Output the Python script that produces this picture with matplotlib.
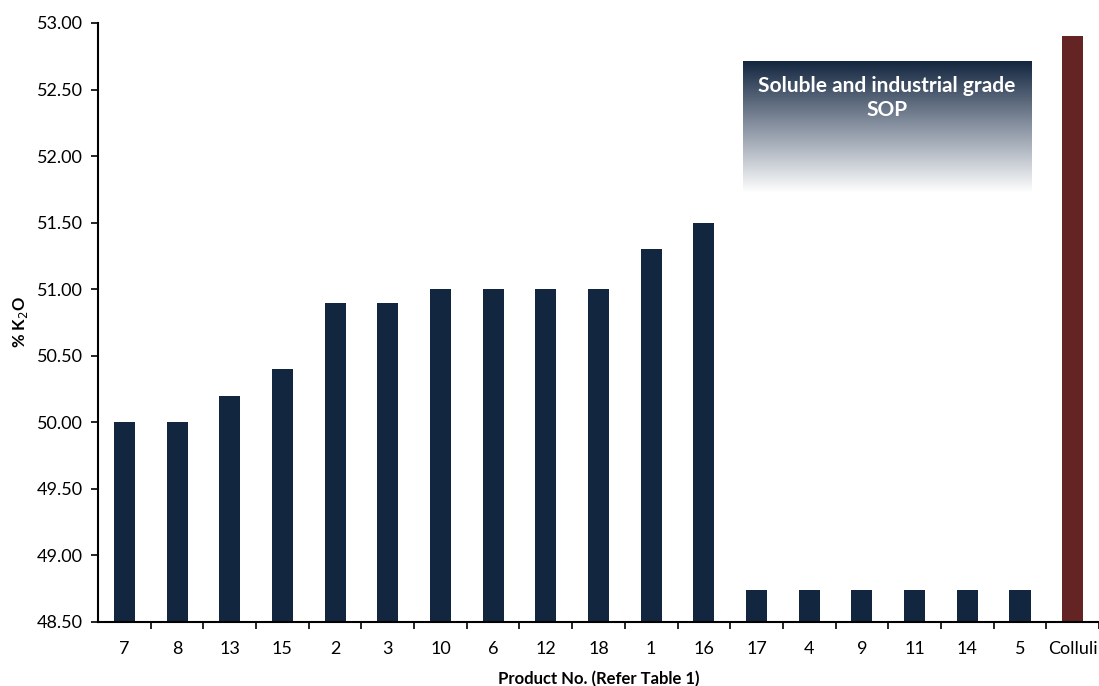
import numpy as np
import matplotlib.pyplot as plt
from matplotlib.colors import LinearSegmentedColormap

plt.rcParams['font.family'] = ['Lato', 'DejaVu Sans']

products = ['7', '8', '13', '15', '2', '3', '10', '6', '12', '18', '1', '16',
            '17', '4', '9', '11', '14', '5', 'Colluli']
k2o = [50.00, 50.00, 50.20, 50.40, 50.90, 50.90, 51.00, 51.00, 51.00, 51.00,
       51.30, 51.50, 48.74, 48.74, 48.74, 48.74, 48.74, 48.74, 52.90]
yticks = [48.5, 49.0, 49.5, 50.0, 50.5, 51.0, 51.5, 52.0, 52.5, 53.0]

navy = '#13263f'
maroon = '#632423'
colors = [navy] * (len(products) - 1) + [maroon]

fig = plt.figure(figsize=(10.99, 6.86), dpi=100)
ax = fig.add_axes([0.0892, 0.0933, 0.9108, 0.8732])

x = np.arange(len(products))
ax.bar(x, k2o, width=0.4, color=colors, bottom=0)
ax.set_xlim(-0.5, len(products) - 0.5)
ax.set_ylim(48.5, 53.0)

ax.set_yticks(yticks)
ax.set_yticklabels([f'{v:.2f}' for v in yticks], fontsize=13)
ax.set_xticks(x)
ax.set_xticklabels(products, fontsize=13)
# ticks sit between categories, labels stay centred
ax.set_xticks(np.arange(len(products)) + 0.5, minor=True)
ax.tick_params(axis='x', which='major', length=0, pad=14)
ax.tick_params(axis='x', which='minor', length=5, width=1.2, direction='out')
ax.tick_params(axis='y', length=5, width=1.2, direction='out', pad=6)

for side in ['top', 'right']:
    ax.spines[side].set_visible(False)
for side in ['left', 'bottom']:
    ax.spines[side].set_linewidth(1.5)

ax.set_ylabel('% K$_2$O', fontsize=12, fontweight='bold', labelpad=5)
ax.set_xlabel('Product No. (Refer Table 1)', fontsize=12, fontweight='bold', labelpad=10)

# gradient label box
grad = LinearSegmentedColormap.from_list('fade', [navy, '#8a94a3', '#ffffff'])
box = (0.644, 0.932, 0.716, 0.935)
ax.imshow(np.linspace(0, 1, 256).reshape(-1, 1), cmap=grad, aspect='auto',
          extent=box, transform=ax.transAxes, zorder=3)
ax.text((box[0] + box[1]) / 2, 0.912, 'Soluble and industrial grade\nSOP',
        transform=ax.transAxes, ha='center', va='top', color='white',
        fontsize=15, fontweight='bold', linespacing=1.3, zorder=4)

fig.savefig('out.png', dpi=100)
